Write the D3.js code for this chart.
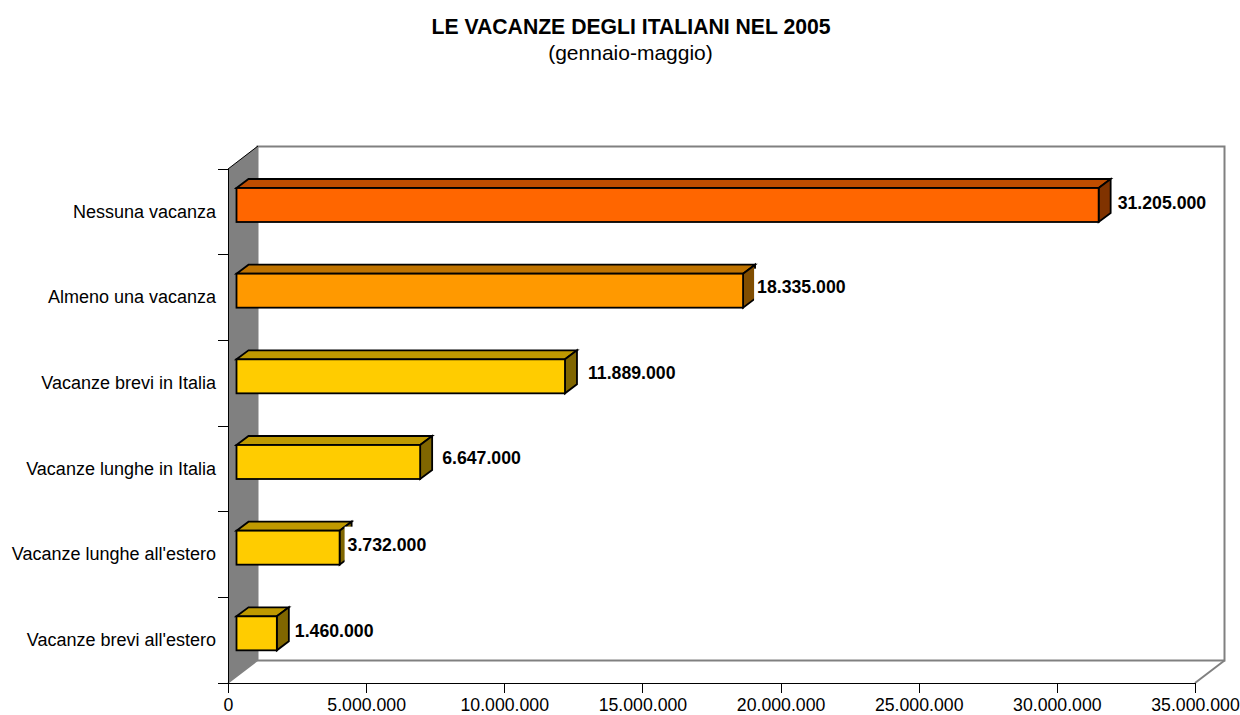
<!DOCTYPE html>
<html><head><meta charset="utf-8">
<script src="https://cdn.jsdelivr.net/npm/d3@7"></script>
<style>
html,body{margin:0;padding:0;background:#fff}
svg{display:block}
text{font-family:"Liberation Sans",Arial,sans-serif;fill:#000}
</style></head><body>
<svg id="c" width="1240" height="715"></svg>
<script>
const titleMain = "LE VACANZE DEGLI ITALIANI NEL 2005";
const titleSub = "(gennaio-maggio)";
const categories = ["Nessuna vacanza","Almeno una vacanza","Vacanze brevi in Italia","Vacanze lunghe in Italia","Vacanze lunghe all'estero","Vacanze brevi all'estero"];
const values = [31205000,18335000,11889000,6647000,3732000,1460000];
const barColors = ["#FF6600","#FF9900","#FFCC00","#FFCC00","#FFCC00","#FFCC00"];
const labelGaps = [19,14,23,22,8,18];
const labelLifts = [0,2,2,2,1,1];
const xTicks = [0,5000000,10000000,15000000,20000000,25000000,30000000,35000000];

const it = d3.formatLocale({decimal:",",thousands:".",grouping:[3],currency:["€",""]});
const fmt = it.format(",d");
const svg = d3.select("#c");
const L=228,R=1195,B=683,T=169,dx=30,dy=23;
const x = d3.scaleLinear().domain([0,35000000]).range([L,R]);
const y = d3.scaleBand().domain(categories).range([T,B]);
const FS = 17.7, CS = 18, TS = 21.2, SS = 21;
const barH=34, bx=12, by=9, barShift=8.5, barTop=19;

svg.append("rect").attr("x",L+dx-0.5).attr("y",T-dy+0.5).attr("width",R-L).attr("height",B-T)
  .attr("fill","#fff").attr("stroke","#808080").attr("stroke-width",2);
svg.append("path").attr("d",`M${R} ${B}L${R+dx-0.5} ${B-dy+0.5}`).attr("stroke","#808080").attr("stroke-width",2).attr("fill","none");
svg.append("path").attr("d",`M${L} ${T}L${L+dx-0.5} ${T-dy}V${B-dy}L${L} ${B}Z`).attr("fill","#808080");
svg.append("path").attr("d",`M${L} ${T}L${L+dx} ${T-dy}`).attr("stroke","#000").attr("stroke-width",1).attr("fill","none");
svg.append("path").attr("d",`M${L} ${B}L${L+dx} ${B-dy}`).attr("stroke","#808080").attr("stroke-width",1.5).attr("fill","none");

const ax = svg.append("g").attr("transform",`translate(0,${B})`)
  .call(d3.axisBottom(x).tickValues(xTicks).tickFormat(fmt).tickSize(10).tickSizeOuter(0));
const ay = svg.append("g").attr("transform",`translate(${L},0)`)
  .call(d3.axisLeft(y).tickSize(0).tickPadding(12).tickSizeOuter(0));
ax.selectAll("text").style("font-size",FS+"px");
ay.selectAll("text").style("font-size",CS+"px");
[ax,ay].forEach(g=>{g.selectAll("text").style("font-family",'"Liberation Sans"').attr("fill","#000");
  g.selectAll("path,line").attr("stroke","#000").attr("shape-rendering","crispEdges");});
ax.selectAll("text").attr("y",15.6).attr("dy","0.71em");
ax.select(".domain").attr("d",`M${L} 0H${R}`);
ay.select(".domain").attr("d",`M0 ${T}V${B}`);
const bounds = categories.map(c=>y(c)).concat([B]);
svg.append("g").selectAll("line").data(bounds).join("line")
  .attr("x1",L-10).attr("x2",L).attr("y1",d=>d).attr("y2",d=>d).attr("stroke","#000").attr("shape-rendering","crispEdges");

const shade=(c,k)=>{const q=d3.color(c);return d3.rgb(q.r*k,q.g*k,q.b*k).formatHex();};
const rows = categories.map((c,i)=>({c,v:values[i],col:barColors[i],gap:labelGaps[i],lift:labelLifts[i]}));
const gb = svg.append("g").attr("stroke","#000").attr("stroke-width",1.8).attr("stroke-linejoin","miter");
rows.forEach(d=>{
  const x0=L+barShift, x1=x(d.v)+barShift, y0=y(d.c)+barTop, y1=y0+barH;
  gb.append("path").attr("d",`M${x0} ${y0}L${x0+bx} ${y0-by}H${x1+bx}L${x1} ${y0}Z`).attr("fill",shade(d.col,0.75));
  gb.append("path").attr("d",`M${x1} ${y0}L${x1+bx} ${y0-by}V${y1-by}L${x1} ${y1}Z`).attr("fill",shade(d.col,0.5));
  gb.append("rect").attr("x",x0).attr("y",y0).attr("width",x1-x0).attr("height",barH).attr("fill",d.col);
});
const gl = svg.append("g");
rows.forEach(d=>{
  const lx=x(d.v)+barShift+d.gap, ly=y(d.c)+barTop+barH/2-2-d.lift;
  gl.append("rect").attr("x",lx-3).attr("y",ly-18).attr("width",95).attr("height",36).attr("fill","#fff");
  gl.append("text").attr("x",lx).attr("y",ly).attr("dy","0.36em").attr("font-weight","bold").attr("font-size",FS).text(fmt(d.v));
});
svg.append("text").attr("x",631).attr("y",34).attr("text-anchor","middle").attr("font-weight","bold").attr("font-size",TS).text(titleMain);
svg.append("text").attr("x",630.5).attr("y",60).attr("text-anchor","middle").attr("font-size",SS).text(titleSub);
</script>
</body></html>
